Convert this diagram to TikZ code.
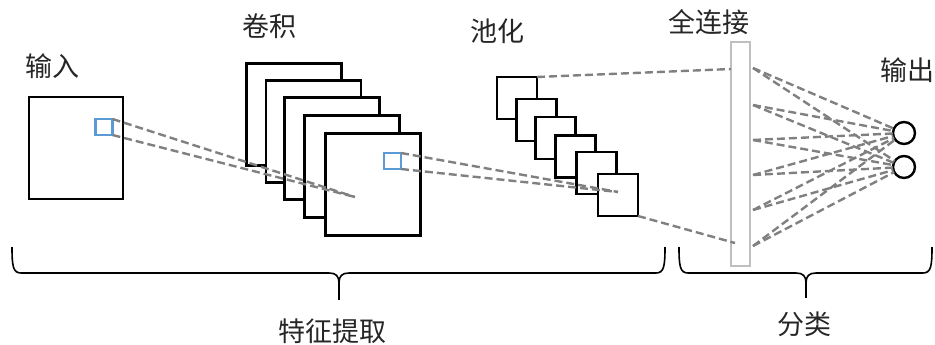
\documentclass[tikz,border=0pt]{standalone}
\usepackage{fontspec}
\newfontfamily\cjk{Noto Sans CJK SC}
\begin{document}
\begin{tikzpicture}[x=1pt,y=-1pt,
  fmap/.style={draw=black,fill=white,line width=2.4pt,minimum width=94pt,minimum height=102pt,inner sep=0pt,outer sep=0pt},
  conv/.style={draw=black,fill=white,line width=2.4pt,minimum width=95pt,minimum height=102pt,inner sep=0pt,outer sep=0pt},
  pool/.style={draw=black,fill=white,line width=2.4pt,minimum width=40pt,minimum height=42pt,inner sep=0pt,outer sep=0pt},
  kern/.style={draw={rgb,255:red,91;green,155;blue,213},line width=2.4pt,minimum width=17pt,minimum height=16pt,inner sep=0pt,outer sep=0pt},
  link/.style={draw={rgb,255:red,128;green,128;blue,128},line width=2.4pt,dash pattern=on 8pt off 4pt},
  outn/.style={circle,draw=black,line width=2.4pt,minimum size=22pt,inner sep=0pt,outer sep=0pt},
  lbl/.style={font=\cjk\fontsize{27}{27}\selectfont,text=black!85,inner sep=0pt},
  brc/.style={draw=black,line width=1.6pt}]
\useasboundingbox (0,0) rectangle (935,345);
% input
\node[fmap] (in) at (76,148) {};
\node[kern] (kin) at (104,127) {};
% conv maps
\node[conv] (c1) at (294,114.5) {};
\node[conv] (c2) at (313.5,131.5) {};
\node[conv] (c3) at (332,148.5) {};
\node[conv] (c4) at (352,166.5) {};
\node[conv] (c5) at (373,184.5) {};
\node[kern] (kc) at (392.5,161) {};
% pool maps
\node[pool] (p1) at (517,98) {};
\node[pool] (p2) at (536.5,120) {};
\node[pool] (p3) at (555.5,138) {};
\node[pool] (p4) at (575.5,156.5) {};
\node[pool] (p5) at (596.5,173) {};
\node[pool] (p6) at (618,195) {};
% fully connected bar
\node[draw={rgb,255:red,191;green,191;blue,191},line width=2.4pt,minimum width=19pt,minimum height=224pt,inner sep=0pt,outer sep=0pt] (fc) at (740.5,154) {};
% outputs
\node[outn] (o1) at (904,133) {};
\node[outn] (o2) at (904,167) {};
% coordinates
\coordinate (e1) at (355,197);
\coordinate (e2) at (618,192);
\coordinate (fa) at (731,69);
\coordinate (fb) at (735,243);
\foreach \i/\y in {1/68,2/105,3/140,4/175,5/210,6/246}{\coordinate (f\i) at (753,\y);}
% links
\draw[link] (kin.north east) -- (e1);
\draw[link] (kin.south east) -- (e1);
\draw[link] (kc.north east) -- (e2);
\draw[link] (kc.south east) -- (e2);
\draw[link] (p1.north east) -- (fa);
\draw[link] (p6.south east) -- (fb);
\foreach \i in {1,...,6}{
  \draw[link] (f\i) -- (o1);
  \draw[link] (f\i) -- (o2);
}
% labels
\node[lbl] (t1) at (52,66) {输入};
\node[lbl] (t2) at (269,26) {卷积};
\node[lbl] (t3) at (497,31) {池化};
\node[lbl] (t4) at (709,22) {全连接};
\node[lbl] (t5) at (907,70) {输出};
\node[lbl] (t6) at (332,331) {特征提取};
\node[lbl] (t7) at (804,324) {分类};
% braces
\draw[brc] (12,247) .. controls (12,266) and (13,273) .. (21,273) -- (329,273)
  .. controls (336,273) and (339,276) .. (339,283)
  .. controls (339,276) and (342,273) .. (349,273) -- (656,273)
  .. controls (664,273) and (665,266) .. (665,247);
\draw[brc] (339,283) -- (339,300);
\draw[brc] (679,247) .. controls (679,266) and (680,273) .. (688,273) -- (796,273)
  .. controls (803,273) and (806,276) .. (806,283)
  .. controls (806,276) and (809,273) .. (816,273) -- (923,273)
  .. controls (931,273) and (932,266) .. (932,247);
\draw[brc] (806,283) -- (806,298);
\end{tikzpicture}
\end{document}
